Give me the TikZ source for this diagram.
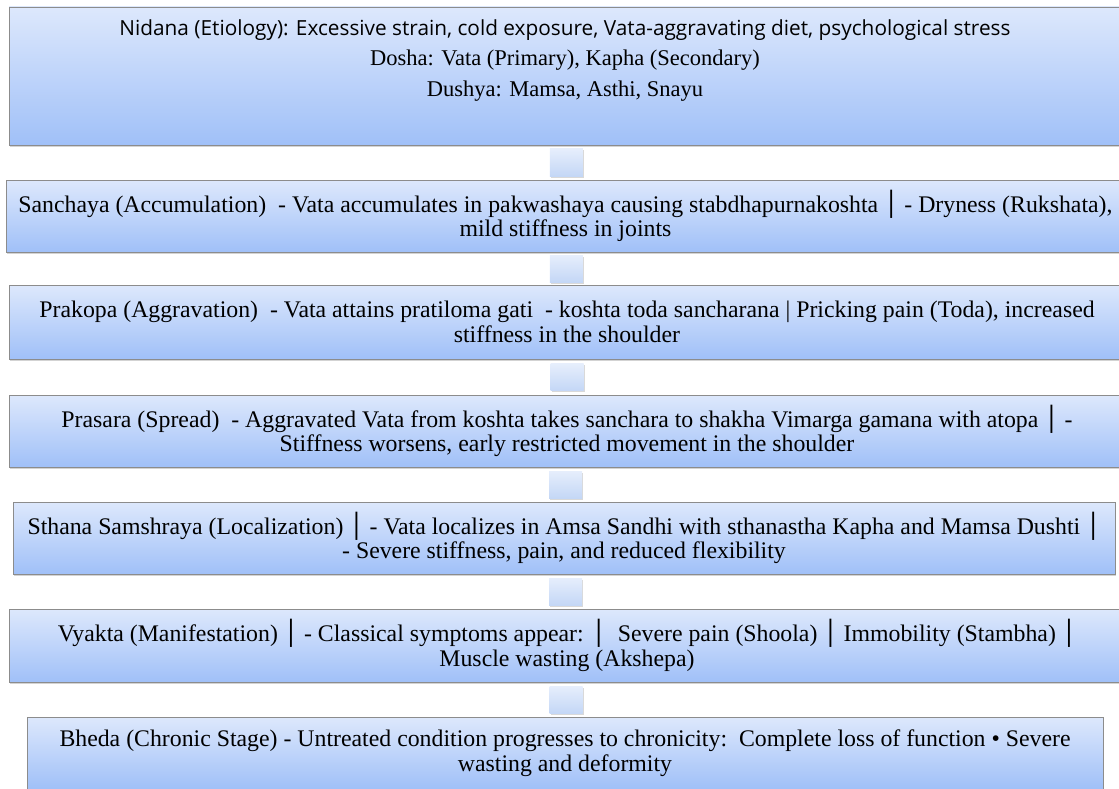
\documentclass[tikz,border=0pt]{standalone}
\usepackage{fontspec}
\setmainfont{Liberation Serif}
\newfontfamily\sansf{Open Sans}
\newfontfamily\dvs{DejaVu Sans}
\usetikzlibrary{shadows,calc}
\definecolor{btop}{RGB}{221,232,252}
\definecolor{bbot}{RGB}{160,192,248}
\definecolor{ctop}{RGB}{230,238,252}
\definecolor{cbot}{RGB}{196,215,246}
\definecolor{bord}{RGB}{140,140,140}
\newcommand{\bxbar}{{\dvs│}}
\begin{document}
\begin{tikzpicture}[x=1pt,y=-1pt,
  stagebox/.style={draw=bord, line width=0.8pt, top color=btop, bottom color=bbot,
    drop shadow={shadow xshift=1.2pt, shadow yshift=-2pt, opacity=0.35},
    inner sep=0pt, align=center, font=\fontsize{23.8}{24.5}\selectfont},
  linkbox/.style={top color=ctop, bottom color=cbot, minimum width=33pt, minimum height=27pt,
    inner sep=0pt, drop shadow={shadow xshift=1pt, shadow yshift=-1.5pt, opacity=0.3}},
  toptext/.style={align=center, inner sep=0pt, font=\fontsize{22.5}{30.5}\selectfont}]
\useasboundingbox (0,0) rectangle (1119,789);
\clip (0,0) rectangle (1119,789);

\node[stagebox, minimum width=1116pt, minimum height=138pt] (b1) at (567,76) {};
\node[toptext, anchor=north] (t1) at (565,19) {{\sansf\fontsize{20.8}{22}\selectfont Nidana (Etiology): Excessive strain, cold exposure, Vata-aggravating diet, psychological stress}\\
Dosha: Vata (Primary), Kapha (Secondary)\\
Dushya: Mamsa, Asthi, Snayu};

\node[stagebox, minimum width=1119pt, minimum height=72pt] (b2) at (565.5,216) {Sanchaya (Accumulation)\ \ - Vata accumulates in pakwashaya causing stabdhapurnakoshta \bxbar{} - Dryness (Rukshata),\\ mild stiffness in joints};

\node[stagebox, minimum width=1116pt, minimum height=74pt] (b3) at (567,322) {Prakopa (Aggravation)\ \ - Vata attains pratiloma gati\ \ - koshta toda sancharana | Pricking pain (Toda), increased\\ stiffness in the shoulder};

\node[stagebox, minimum width=1116pt, minimum height=72pt] (b4) at (567,431) {Prasara (Spread)\ \ - Aggravated Vata from koshta takes sanchara to shakha Vimarga gamana with atopa \bxbar{} -\\ Stiffness worsens, early restricted movement in the shoulder};

\node[stagebox, minimum width=1102pt, minimum height=72pt] (b5) at (564,538) {Sthana Samshraya (Localization) \bxbar{} - Vata localizes in Amsa Sandhi with sthanastha Kapha and Mamsa Dushti \bxbar\\ - Severe stiffness, pain, and reduced flexibility};

\node[stagebox, minimum width=1116pt, minimum height=73pt] (b6) at (567,645.5) {Vyakta (Manifestation) \bxbar{} - Classical symptoms appear: \bxbar{}\ \ Severe pain (Shoola) \bxbar{} Immobility (Stambha) \bxbar\\ Muscle wasting (Akshepa)};

\node[stagebox, minimum width=1076pt, minimum height=72pt] (b7) at (565,753) {Bheda (Chronic Stage) - Untreated condition progresses to chronicity:\ \ Complete loss of function \textbullet{} Severe\\ wasting and deformity};

\foreach \a/\b/\n in {b1/b2/c1, b2/b3/c2, b3/b4/c3, b4/b5/c4, b5/b6/c5, b6/b7/c6}{
  \node[linkbox] (\n) at ($(\a.south)!0.5!(\b.north)$) {};
}
\end{tikzpicture}
\end{document}
